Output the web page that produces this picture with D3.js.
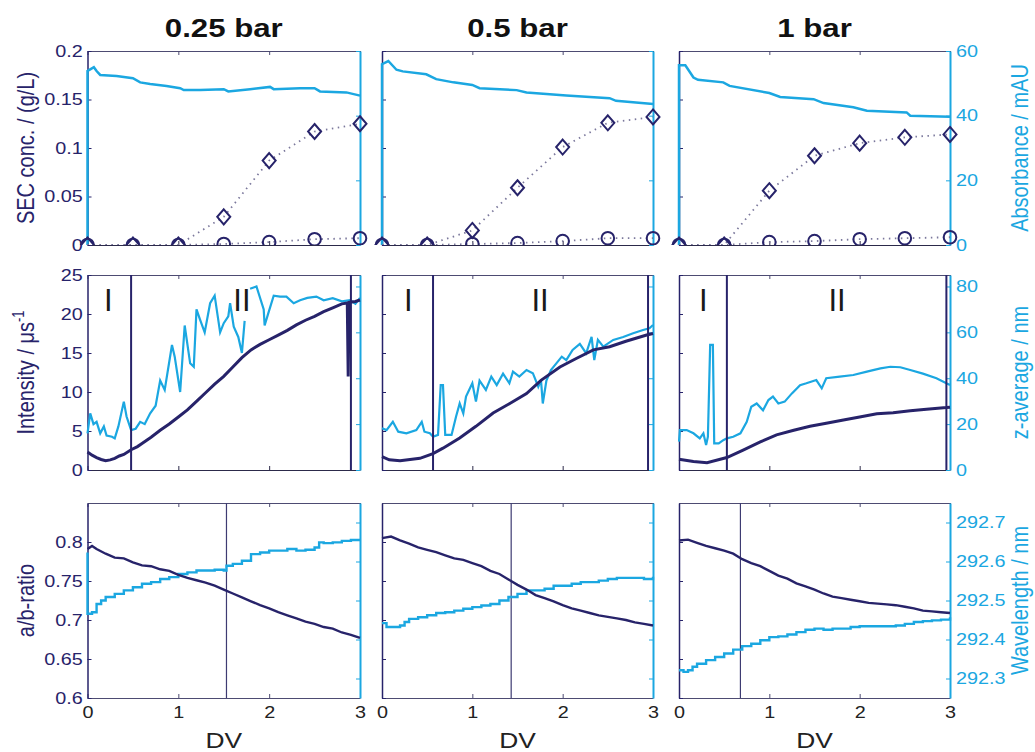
<!DOCTYPE html>
<html>
<head>
<meta charset="utf-8">
<script src="https://cdn.jsdelivr.net/npm/d3@7"></script>
<style>
  body { margin: 0; background: #fff; }
  svg text { font-family: "Liberation Sans", Arial, sans-serif; }
</style>
</head>
<body>
<svg id="chart" width="1035" height="752"></svg>
<script>
const NAVY = '#27236a';
const CYAN = '#1ba7e1';
const FRAME = '#4d4b72';
const SX = 1.2; // the source figure is stretched horizontally

const pressures = ['0.25 bar', '0.5 bar', '1 bar'];
const dvTicks = [0, 1, 2, 3];

// top row: SEC concentrations (left) + absorbance (right)
const secX = [0, 0.5, 1, 1.5, 2, 2.5, 3];
const secDiamond025 = [0, 0, 0, 0.029, 0.087, 0.117, 0.125];
const secCircle025 = [0, 0, 0, 0.001, 0.003, 0.006, 0.007];
const secDiamond05 = [0, 0, 0.015, 0.059, 0.101, 0.126, 0.132];
const secCircle05 = [0, 0, 0.001, 0.002, 0.004, 0.007, 0.007];
const secDiamond1 = [0, 0, 0.056, 0.092, 0.105, 0.111, 0.114];
const secCircle1 = [0, 0, 0.003, 0.004, 0.006, 0.007, 0.008];

const absorb025 = [[0,0],[0,53.8],[0.03,54.3],[0.07,55],[0.1,53.8],[0.14,52.6],[0.32,52.3],[0.5,51.6],[0.58,50.3],[0.69,49.8],[0.87,49.2],[1.02,48.5],[1.06,47.9],[1.24,47.9],[1.5,48.2],[1.55,47.5],[1.79,48.2],[2.01,48.9],[2.05,48.2],[2.34,48.5],[2.5,48.5],[2.56,47.5],[2.85,47.2],[3,46.2]];
const absorb05 = [[0,0],[0,55.9],[0.07,56.9],[0.16,54.2],[0.23,53.7],[0.49,52.8],[0.6,51.3],[0.79,50.3],[1.0,49.5],[1.08,48.5],[1.49,47.9],[1.6,47.2],[2.04,46.2],[2.52,45.4],[2.59,44.6],[3,43.6]];
const absorb1 = [[0,0],[0,55.6],[0.07,55.6],[0.16,51.8],[0.21,51.1],[0.49,50.3],[0.56,49.2],[1.0,47],[1.12,45.8],[1.49,45.1],[1.6,43.9],[1.93,42.6],[2.08,41.5],[2.52,41],[2.56,40],[3,39.7]];

// middle row: intensity (left) + z-average (right)
const int025 = [[0,2.3],[0.05,1.9],[0.1,1.6],[0.15,1.35],[0.2,1.2],[0.25,1.3],[0.3,1.5],[0.35,1.8],[0.4,2.0],[0.48,2.6],[0.55,3.0],[0.6,3.4],[0.7,4.2],[0.8,5.1],[0.9,5.9],[1.0,6.8],[1.1,7.7],[1.2,8.8],[1.3,9.9],[1.4,11.0],[1.5,12.0],[1.6,13.2],[1.7,14.4],[1.8,15.4],[1.9,16.1],[2.0,16.7],[2.1,17.3],[2.2,17.9],[2.3,18.6],[2.4,19.2],[2.5,19.7],[2.6,20.3],[2.7,20.8],[2.8,21.3],[2.86,21.4],[2.87,12.0],[2.88,21.5],[2.95,21.6],[3.0,21.8]];
const int05 = [[0,1.7],[0.08,1.3],[0.2,1.2],[0.42,1.5],[0.565,2.1],[0.675,2.8],[0.86,4.1],[1.04,5.6],[1.23,7.3],[1.41,8.5],[1.6,9.8],[1.76,11.5],[1.97,13.2],[2.15,14.3],[2.34,15.4],[2.52,15.8],[2.7,16.5],[2.93,17.3],[3,17.5]];
const int1 = [[0,1.37],[0.16,1.1],[0.31,0.94],[0.53,1.6],[0.71,2.56],[0.9,3.6],[1.08,4.5],[1.27,5.1],[1.45,5.6],[1.63,6.0],[1.82,6.4],[2.0,6.8],[2.19,7.2],[2.37,7.35],[2.56,7.6],[2.74,7.8],[2.96,8.0],[3,8.05]];

const zavg025 = [[0,16],[0.03,24.7],[0.066,20],[0.1,21],[0.14,16],[0.18,19],[0.21,15],[0.27,14.5],[0.3,13.8],[0.34,19],[0.4,29.8],[0.43,23.3],[0.48,17.4],[0.53,18],[0.58,21],[0.63,20],[0.69,24.7],[0.75,28],[0.8,39],[0.85,34.9],[0.93,54.5],[0.96,49.4],[1.02,34],[1.07,63],[1.13,46.5],[1.17,45],[1.2,70],[1.24,65.4],[1.29,60],[1.35,72.7],[1.4,76],[1.46,60],[1.5,64],[1.55,67],[1.57,72.7],[1.61,62.5],[1.66,58],[1.7,51],[1.73,65],[1.74,null],[1.78,null],[1.79,79],[1.86,80],[1.94,70],[1.95,63],[1.99,68.3],[2.05,76],[2.12,75.6],[2.19,75.6],[2.27,72.7],[2.34,74],[2.42,75],[2.52,75.6],[2.6,74],[2.7,74.9],[2.8,73.5],[2.89,74],[2.95,72.5],[3,75]];
const zavg05 = [[0,18.2],[0.05,17.4],[0.12,21],[0.18,16.7],[0.27,16],[0.38,17.4],[0.44,21],[0.47,16.7],[0.53,16],[0.565,14.5],[0.62,15.3],[0.65,37],[0.675,37],[0.7,15.3],[0.77,15.3],[0.82,23.3],[0.86,29],[0.9,24.7],[0.93,32],[1.0,37.8],[1.04,29.8],[1.08,39],[1.15,34.9],[1.21,40.7],[1.27,37],[1.34,42],[1.41,37.8],[1.45,42.9],[1.52,40.7],[1.6,43.6],[1.67,42.2],[1.73,36.3],[1.76,39.2],[1.78,29],[1.82,39],[1.87,43.6],[1.93,46.5],[1.99,49.4],[2.04,47.9],[2.11,52.3],[2.19,55],[2.26,50.9],[2.32,58],[2.35,47.9],[2.39,56.7],[2.45,53.8],[2.56,56.7],[2.67,58],[2.78,59.6],[2.89,61],[2.96,61.8],[3,63.2]];
const zavg1 = [[0,12.4],[0.01,17.4],[0.085,17.4],[0.16,16],[0.23,13.8],[0.27,16],[0.3,10.9],[0.32,14.5],[0.345,54.5],[0.375,54.5],[0.39,11.6],[0.44,11.6],[0.49,13],[0.53,13.8],[0.6,14.5],[0.68,16],[0.75,21],[0.8,27.6],[0.86,29],[0.93,26],[0.99,30.5],[1.04,32],[1.1,29],[1.17,29.8],[1.25,33.4],[1.34,37],[1.41,37.8],[1.52,39.2],[1.58,35.6],[1.63,40],[1.78,40.7],[1.93,41.4],[2.08,42.9],[2.23,44.3],[2.34,45],[2.45,44.8],[2.56,43.6],[2.7,42],[2.85,40],[2.96,37.8],[3,37.1]];

// region boundaries (I | II) in DV
const regions025 = [0.48, 2.90];
const regions05 = [0.565, 2.945];
const regions1 = [0.53, 2.96];

// bottom row: a/b ratio (left) + wavelength (right)
const ab025 = [[0,0.791],[0.05,0.795],[0.1,0.791],[0.2,0.785],[0.3,0.78],[0.4,0.779],[0.5,0.774],[0.6,0.77],[0.7,0.769],[0.8,0.765],[0.9,0.763],[1.0,0.758],[1.1,0.754],[1.2,0.751],[1.3,0.748],[1.4,0.744],[1.5,0.739],[1.6,0.734],[1.7,0.729],[1.8,0.724],[1.9,0.719],[2.0,0.715],[2.1,0.71],[2.2,0.706],[2.3,0.702],[2.4,0.698],[2.5,0.695],[2.6,0.691],[2.7,0.689],[2.8,0.684],[2.9,0.681],[3.0,0.677]];
const ab05 = [[0,0.805],[0.1,0.807],[0.2,0.802],[0.3,0.798],[0.4,0.793],[0.5,0.79],[0.6,0.787],[0.7,0.783],[0.8,0.779],[0.9,0.777],[1.0,0.773],[1.1,0.769],[1.2,0.763],[1.3,0.759],[1.4,0.752],[1.5,0.745],[1.6,0.739],[1.7,0.732],[1.8,0.728],[1.9,0.724],[2.0,0.719],[2.1,0.715],[2.2,0.712],[2.3,0.709],[2.4,0.706],[2.5,0.704],[2.6,0.702],[2.7,0.7],[2.8,0.697],[2.9,0.695],[3.0,0.693]];
const ab1 = [[0,0.802],[0.1,0.803],[0.2,0.799],[0.3,0.795],[0.4,0.792],[0.5,0.789],[0.6,0.785],[0.7,0.778],[0.8,0.773],[0.9,0.769],[1.0,0.763],[1.1,0.757],[1.2,0.753],[1.3,0.747],[1.4,0.743],[1.5,0.739],[1.6,0.734],[1.7,0.73],[1.8,0.728],[1.9,0.726],[2.0,0.724],[2.1,0.722],[2.2,0.721],[2.3,0.72],[2.4,0.719],[2.5,0.717],[2.6,0.715],[2.7,0.712],[2.8,0.711],[2.9,0.71],[3.0,0.709]];

const wl025 = [[0,292.623],[0,292.466],[0.05,292.47],[0.1,292.491],[0.15,292.5],[0.2,292.509],[0.3,292.517],[0.4,292.526],[0.5,292.534],[0.6,292.543],[0.7,292.547],[0.8,292.555],[0.9,292.56],[1.0,292.568],[1.1,292.572],[1.2,292.577],[1.3,292.577],[1.4,292.579],[1.5,292.577],[1.53,292.589],[1.6,292.594],[1.7,292.602],[1.8,292.619],[1.9,292.623],[2.0,292.628],[2.1,292.628],[2.2,292.632],[2.3,292.628],[2.4,292.63],[2.5,292.636],[2.55,292.649],[2.6,292.647],[2.7,292.649],[2.8,292.653],[2.9,292.655],[3.0,292.655]];
const wl05 = [[0,292.442],[0.05,292.432],[0.15,292.432],[0.2,292.436],[0.25,292.445],[0.3,292.453],[0.4,292.457],[0.5,292.462],[0.6,292.468],[0.7,292.47],[0.8,292.474],[0.9,292.479],[1.0,292.483],[1.1,292.487],[1.2,292.491],[1.3,292.5],[1.4,292.509],[1.5,292.517],[1.6,292.526],[1.7,292.526],[1.8,292.53],[1.9,292.538],[2.0,292.538],[2.1,292.543],[2.2,292.547],[2.3,292.547],[2.4,292.551],[2.5,292.555],[2.6,292.558],[2.7,292.558],[2.8,292.558],[2.9,292.555],[3.0,292.561]];
const wl1 = [[0,292.321],[0.05,292.317],[0.1,292.321],[0.15,292.33],[0.2,292.338],[0.3,292.347],[0.4,292.355],[0.5,292.364],[0.6,292.374],[0.7,292.383],[0.8,292.389],[0.9,292.398],[1.0,292.406],[1.1,292.408],[1.2,292.413],[1.3,292.419],[1.4,292.425],[1.5,292.428],[1.6,292.425],[1.7,292.428],[1.8,292.428],[1.9,292.432],[2.0,292.434],[2.1,292.434],[2.2,292.434],[2.3,292.434],[2.4,292.436],[2.5,292.44],[2.6,292.445],[2.7,292.447],[2.8,292.449],[2.9,292.451],[3.0,292.457]];

const markers025 = 1.53, markers05 = 1.43, markers1 = 0.68; // thin vertical line, bottom row

// axis setup per row
const rowAxes = [
  { left: [0, 0.2], leftTicks: [0, 0.05, 0.1, 0.15, 0.2], leftFmt: d => String(d),
    right: [0, 60], rightTicks: [0, 20, 40, 60], rightFmt: d3.format('d'),
    leftTitle: 'SEC conc. / (g/L)', rightTitle: 'Absorbance / mAU' },
  { left: [0, 25], leftTicks: [0, 5, 10, 15, 20, 25], leftFmt: d3.format('d'),
    right: [0, 85], rightTicks: [0, 20, 40, 60, 80], rightFmt: d3.format('d'),
    leftTitle: 'Intensity / μs', rightTitle: 'z-average / nm' },
  { left: [0.6, 0.85], leftTicks: [0.6, 0.65, 0.7, 0.75, 0.8], leftFmt: d => String(d),
    right: [292.25, 292.75], rightTicks: [292.3, 292.4, 292.5, 292.6, 292.7], rightFmt: d3.format('.1f'),
    leftTitle: 'a/b-ratio', rightTitle: 'Wavelength / nm' }
];

const columns = [
  { sec: [secDiamond025, secCircle025], absorb: absorb025, int: int025, zavg: zavg025, regions: regions025, ab: ab025, wl: wl025, vline: markers025, labelI: [0.23, 1.70] },
  { sec: [secDiamond05, secCircle05], absorb: absorb05, int: int05, zavg: zavg05, regions: regions05, ab: ab05, wl: wl05, vline: markers05, labelI: [0.29, 1.75] },
  { sec: [secDiamond1, secCircle1], absorb: absorb1, int: int1, zavg: zavg1, regions: regions1, ab: ab1, wl: wl1, vline: markers1, labelI: [0.27, 1.75] }
];

// layout
const colX = [87.5, 382, 679];
const colW = [272.5, 271, 271];
const rowY = [51, 275, 503];
const rowH = [194, 195, 195];

const svg = d3.select('#chart');

columns.forEach((col, c) => {
  const cx = colX[c] + colW[c] / 2;
  svg.append('text')
    .attr('transform', `translate(${cx},37) scale(${SX},1)`)
    .attr('text-anchor', 'middle')
    .attr('font-size', 26).attr('font-weight', 'bold').attr('fill', '#111')
    .text(pressures[c]);
  svg.append('text')
    .attr('transform', `translate(${cx},748) scale(${SX},1)`)
    .attr('text-anchor', 'middle')
    .attr('font-size', 22).attr('fill', '#222')
    .text('DV');

  rowAxes.forEach((ax, r) => {
    const w = colW[c], h = rowH[r];
    const g = svg.append('g').attr('transform', `translate(${colX[c]},${rowY[r]})`);
    const x = d3.scaleLinear().domain([0, 3]).range([0, w]);
    const yL = d3.scaleLinear().domain(ax.left).range([h, 0]);
    const yR = d3.scaleLinear().domain(ax.right).range([h, 0]);

    const clipId = `clip-${r}-${c}`;
    g.append('clipPath').attr('id', clipId)
      .append('rect').attr('x', -12).attr('y', 0).attr('width', w + 24).attr('height', h);

    const styleAxis = (sel, color, width) => {
      sel.style('color', color).attr('font-size', 16.5).attr('font-family', null);
      sel.select('.domain').attr('stroke-width', width);
      sel.selectAll('text').attr('transform', `scale(${SX},1)`);
    };

    g.append('g').call(d3.axisTop(x).tickValues(dvTicks).tickSize(-4).tickSizeOuter(0).tickFormat(''))
      .call(s => styleAxis(s, FRAME, 1));
    g.append('g').attr('transform', `translate(0,${h})`)
      .call(d3.axisBottom(x).tickValues(dvTicks).tickSize(-4).tickSizeOuter(0).tickPadding(8)
        .tickFormat(r === 2 ? d3.format('d') : ''))
      .call(s => styleAxis(s, r === 2 ? FRAME : '#2c2a4a', 1))
      .selectAll('text').attr('fill', '#222');
    g.append('g')
      .call(d3.axisLeft(yL).tickValues(ax.leftTicks).tickSize(-4).tickSizeOuter(0).tickPadding(4)
        .tickFormat(c === 0 ? ax.leftFmt : ''))
      .call(s => styleAxis(s, NAVY, 1.5));
    g.append('g').attr('transform', `translate(${w},0)`)
      .call(d3.axisRight(yR).tickValues(ax.rightTicks).tickSize(-4).tickSizeOuter(0).tickPadding(5)
        .tickFormat(c === 2 ? ax.rightFmt : ''))
      .call(s => styleAxis(s, CYAN, 2));

    const plot = g.append('g').attr('clip-path', `url(#${clipId})`);
    const lineL = d3.line().defined(d => d[1] != null).x(d => x(d[0])).y(d => yL(d[1]));
    const lineR = d3.line().defined(d => d[1] != null).x(d => x(d[0])).y(d => yR(d[1]));

    if (r === 0) {
      plot.append('path').datum(col.absorb).attr('d', lineR)
        .attr('fill', 'none').attr('stroke', CYAN).attr('stroke-width', 2.5);
      col.sec.forEach((vals, k) => {
        const pts = secX.map((d, i) => [d, vals[i]]);
        plot.append('path').datum(pts).attr('d', lineL)
          .attr('fill', 'none').attr('stroke', '#7b789c').attr('stroke-width', 1.8)
          .attr('stroke-dasharray', '1.5,4.5');
        const m = plot.append('g').selectAll('.m').data(pts).enter();
        if (k === 0) {
          m.append('path').attr('d', 'M0,-7.5L6.5,0L0,7.5L-6.5,0Z')
            .attr('transform', d => `translate(${x(d[0])},${yL(d[1])})`)
            .attr('fill', 'none').attr('stroke', NAVY).attr('stroke-width', 2);
        } else {
          m.append('circle').attr('cx', d => x(d[0])).attr('cy', d => yL(d[1])).attr('r', 6.3)
            .attr('fill', 'none').attr('stroke', NAVY).attr('stroke-width', 2);
        }
      });
    } else if (r === 1) {
      plot.append('path').datum(col.zavg).attr('d', lineR)
        .attr('fill', 'none').attr('stroke', CYAN).attr('stroke-width', 2.2);
      plot.append('path').datum(col.int).attr('d', lineL)
        .attr('fill', 'none').attr('stroke', NAVY).attr('stroke-width', 3);
      col.regions.forEach(v => {
        plot.append('line').attr('x1', x(v)).attr('x2', x(v)).attr('y1', 0).attr('y2', h)
          .attr('stroke', NAVY).attr('stroke-width', 2);
      });
      ['I', 'II'].forEach((t, i) => {
        g.append('text').attr('x', x(col.labelI[i])).attr('y', 36)
          .attr('text-anchor', 'middle').attr('font-size', 31).attr('fill', '#1a1a1a').text(t);
      });
    } else {
      plot.append('line').attr('x1', x(col.vline)).attr('x2', x(col.vline)).attr('y1', 0).attr('y2', h)
        .attr('stroke', '#3e3b72').attr('stroke-width', 1.2);
      plot.append('path').datum(col.wl).attr('d', lineR.curve(d3.curveStepAfter))
        .attr('fill', 'none').attr('stroke', CYAN).attr('stroke-width', 2.4);
      plot.append('path').datum(col.ab).attr('d', lineL)
        .attr('fill', 'none').attr('stroke', NAVY).attr('stroke-width', 2.4);
    }

    if (c === 0) {
      const t = svg.append('text')
        .attr('transform', `translate(34,${rowY[r] + h / 2}) scale(${SX},1) rotate(-90)`)
        .attr('text-anchor', 'middle').attr('font-size', 20).attr('fill', NAVY)
        .text(ax.leftTitle);
      if (r === 1) t.append('tspan').attr('dy', -8).attr('font-size', 13).text('-1');
    }
    if (c === 2) {
      svg.append('text')
        .attr('transform', `translate(1028,${rowY[r] + h / 2}) scale(${SX},1) rotate(-90)`)
        .attr('text-anchor', 'middle').attr('font-size', 20).attr('fill', CYAN)
        .text(ax.rightTitle);
    }
  });
});
</script>
</body>
</html>
